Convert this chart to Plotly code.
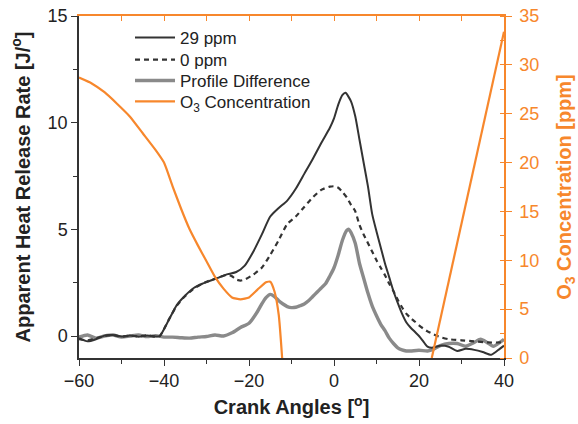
import plotly.graph_objects as go

# ---- data ----
x_29 = [-60, -58, -56, -54, -52, -50, -48, -46, -44, -42, -41, -39, -37, -35, -33, -31, -29, -27, -25,
        -23, -21, -19, -17, -15, -13, -11, -9, -7, -5, -3, -1, 0, 1, 2, 2.7, 4, 5, 6, 7, 8, 9, 10,
        11, 12, 13, 14, 15, 16, 17, 18, 19, 20, 21, 22, 23, 25, 27, 29, 31, 33, 35, 37, 39, 40]
v_29 = [-0.1, -0.25, -0.15, 0.02, 0.05, -0.02, 0.03, -0.03, 0.02, -0.02, 0.0, 0.7, 1.45, 1.9, 2.25,
        2.45, 2.6, 2.75, 2.9, 3.0, 3.3, 3.95, 4.75, 5.6, 6.0, 6.35, 6.9, 7.6, 8.3, 9.05, 9.75, 10.2,
        10.85, 11.3, 11.4, 11.0, 10.3, 9.2, 8.1, 7.0, 5.7, 4.9, 4.15, 3.4, 2.75, 2.1, 1.55, 1.05,
        0.65, 0.4, 0.2, 0.0, -0.25, -0.5, -0.55, -0.45, -0.5, -0.7, -0.6, -0.65, -0.75, -0.88, -0.6,
        -0.45]

x_0 = [-60, -58, -56, -54, -52, -50, -48, -46, -44, -42, -41, -39, -37, -35, -33, -31, -29, -27, -25,
       -24, -23, -22, -21, -19, -17, -15, -13, -11, -9, -7, -5, -3, -1, 0, 1, 2, 3, 4, 5, 6, 7, 8,
       9, 10, 11, 12, 13, 14, 15, 16, 17, 18, 19, 20, 21, 22, 23, 25, 27, 30, 33, 36, 40]
v_0 = [-0.15, -0.2, -0.1, 0.0, 0.05, -0.03, 0.02, -0.02, 0.03, -0.03, 0.0, 0.72, 1.42, 1.88, 2.22,
       2.45, 2.62, 2.75, 2.88, 2.8, 2.65, 2.6, 2.65, 2.88, 3.2, 3.8, 4.5, 5.25, 5.6, 6.05, 6.5, 6.85,
       7.0, 7.02, 6.95, 6.75, 6.5, 6.15, 5.85, 5.2, 4.75, 4.35, 3.95, 3.55, 3.2, 2.85, 2.45, 2.1,
       1.7, 1.35, 1.05, 0.85, 0.68, 0.5, 0.35, 0.22, 0.12, -0.05, -0.15, -0.2, -0.25, -0.3, -0.3]

x_diff = [-60, -58, -56, -54, -52, -50, -48, -46, -44, -42, -40, -38, -36, -34, -32, -30, -28, -26,
          -24, -22, -20, -18, -17, -16, -15, -14, -13, -12, -11, -10, -9, -8, -7, -6, -5, -4, -3,
          -2, -1, 0, 1, 2, 3, 3.5, 4, 5, 6, 7, 8, 9, 10, 11, 12, 13, 14, 15, 16, 17, 18, 20, 22,
          23, 25, 27, 29, 31, 33, 34.5, 36, 37.5, 39, 40]
v_diff = [-0.05, 0.05, -0.1, 0.0, 0.05, -0.05, 0.0, 0.05, -0.03, 0.02, -0.05, -0.05, -0.08, -0.1,
          -0.05, -0.02, 0.05, 0.0, 0.15, 0.4, 0.6, 1.15, 1.5, 1.8, 1.95, 1.85, 1.65, 1.5, 1.38,
          1.33, 1.35, 1.42, 1.5, 1.65, 1.85, 2.05, 2.25, 2.45, 2.8, 3.2, 3.8, 4.5, 4.95, 5.0, 4.85,
          4.35, 3.4, 2.7, 2.0, 1.4, 0.95, 0.55, 0.25, -0.1, -0.35, -0.55, -0.65, -0.7, -0.7, -0.67,
          -0.7, -0.65, -0.45, -0.35, -0.35, -0.48, -0.3, -0.15, -0.3, -0.48, -0.3, -0.15]

x_o3 = [-60, -57, -54, -51, -48, -45, -42, -40, -38, -36, -34, -32, -30, -28, -26, -24, -22, -20,
        -18, -16, -15, -14, -13, -12.2, None, 23, 40]
c_o3 = [28.7, 28.1, 27.2, 26.0, 24.7, 23.0, 21.3, 20.0, 17.6, 15.3, 13.2, 11.5, 9.9, 8.3, 7.1, 6.2,
        6.0, 6.2, 7.0, 7.75, 7.8, 6.8, 4.4, 0.0, None, 0.0, 33.4]

x_ticks = [-60, -40, -20, 0, 20, 40]
left_ticks = [0, 5, 10, 15]
right_ticks = [0, 5, 10, 15, 20, 25, 30, 35]

ORANGE = "#F7872C"
DARK = "#333333"
GRAY = "#8A8A8A"
FONT = "Liberation Sans, Arial, sans-serif"

fig = go.Figure()
fig.add_trace(go.Scatter(x=x_diff, y=v_diff, mode="lines", name="Profile Difference",
                         line=dict(color=GRAY, width=3.4, shape="spline", smoothing=0.6),
                         legend="legend3"))
fig.add_trace(go.Scatter(x=x_0, y=v_0, mode="lines", name="0 ppm",
                         line=dict(color=DARK, width=2.2, dash="5px,4px", shape="spline", smoothing=0.6),
                         legend="legend2"))
fig.add_trace(go.Scatter(x=x_29, y=v_29, mode="lines", name="29 ppm",
                         line=dict(color=DARK, width=2, shape="spline", smoothing=0.6), legend="legend"))
fig.add_trace(go.Scatter(x=x_o3, y=c_o3, mode="lines", name="O<sub>3</sub> Concentration",
                         line=dict(color=ORANGE, width=2.2, shape="spline", smoothing=0.5),
                         xaxis="x2", yaxis="y2", connectgaps=False, legend="legend4"))

leg_common = dict(x=0.12, xanchor="left", yanchor="middle", bgcolor="rgba(0,0,0,0)",
                  font=dict(size=17, color="#222222"), itemwidth=40)

fig.update_layout(
    width=578, height=424, autosize=False,
    margin=dict(l=79, r=74, t=16, b=66),
    paper_bgcolor="white", plot_bgcolor="white",
    font=dict(family=FONT, size=18, color="#222222"),
    showlegend=True,
    legend=dict(y=0.936, **leg_common),
    legend2=dict(y=0.871, **leg_common),
    legend3=dict(y=0.810, **leg_common),
    legend4=dict(y=0.749, **leg_common),
    xaxis=dict(range=[-60, 40], tickvals=x_ticks, showgrid=False, zeroline=False, automargin=False,
               showline=True, linecolor=DARK, linewidth=1.5, ticks="outside", ticklen=6,
               tickcolor=DARK, minor=dict(dtick=10, tick0=0, ticks="outside", ticklen=4, tickcolor=DARK),
               title=dict(text="<b>Crank Angles [<sup>o</sup>]</b>", font=dict(size=20), standoff=10)),
    yaxis=dict(range=[-1.03, 15], tickvals=left_ticks, showgrid=False, zeroline=False, automargin=False,
               showline=True, linecolor=DARK, linewidth=1.5, ticks="outside", ticklen=6,
               tickcolor=DARK, minor=dict(dtick=2.5, tick0=0, ticks="outside", ticklen=4, tickcolor=DARK),
               title=dict(text="<b>Apparent Heat Release Rate [J/<sup>o</sup>]</b>", font=dict(size=20), standoff=12)),
    xaxis2=dict(range=[-60, 40], overlaying="x", side="top", anchor="y2", showgrid=False, automargin=False,
                zeroline=False, showline=True, linecolor=ORANGE, linewidth=1.5, ticks="inside",
                ticklen=5, tickcolor=ORANGE, dtick=10, tick0=0, showticklabels=False),
    yaxis2=dict(range=[0, 35], overlaying="y", side="right", anchor="x2", tickvals=right_ticks,
                showgrid=False, zeroline=False, showline=True, linecolor=ORANGE, linewidth=1.5,
                automargin=False, ticklabelstandoff=4,
                ticks="outside", ticklen=6, tickcolor=ORANGE, tickfont=dict(color=ORANGE),
                minor=dict(dtick=2.5, tick0=0, ticks="inside", ticklen=4, tickcolor=ORANGE),
                title=dict(text="<b>O<sub>3</sub> Concentration [ppm]</b>", font=dict(size=20, color=ORANGE),
                           standoff=20)),
)

fig.write_html("out.html", config={"displayModeBar": False},
               post_script="document.body.style.margin='0';")
